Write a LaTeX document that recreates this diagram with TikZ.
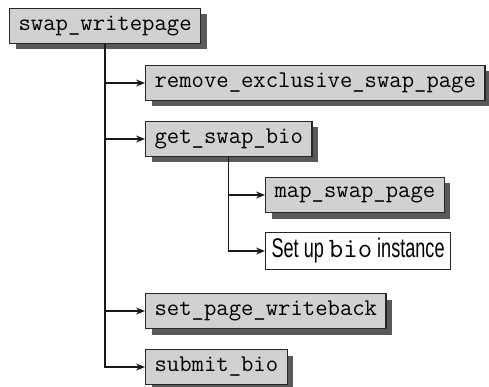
\documentclass[tikz,border=0pt]{standalone}
\usepackage{fontspec}
\newfontfamily\narrowsans[FakeStretch=0.67]{Liberation Sans}
\usetikzlibrary{positioning,shadows,arrows.meta}

\begin{document}
\begin{tikzpicture}[x=1pt,y=-1pt,
    fn/.style={draw=black!85,line width=1.2pt,fill=black!18,anchor=west,
        font=\fontsize{24}{27}\selectfont\ttfamily,inner xsep=9pt,minimum height=35pt,
        drop shadow={shadow xshift=6pt,shadow yshift=-6pt,fill=black!65,opacity=1}},
    plainbox/.style={draw=black!85,line width=1.2pt,fill=white,anchor=west,
        font=\fontsize{27}{30}\selectfont\narrowsans,inner xsep=6pt,minimum height=37pt},
    link/.style={line width=1.4pt,draw=black!90,-{Stealth[length=9pt,width=7pt]}}]
    \useasboundingbox (0,0) rectangle (489,387);
    \node[fn] (writepage) at (9,26) {swap\_writepage};
    \node[fn] (removex) at (145,83) {remove\_exclusive\_swap\_page};
    \node[fn] (getbio) at (145,139) {get\_swap\_bio};
    \node[fn] (mapswap) at (265,195) {map\_swap\_page};
    \node[plainbox] (setupbio) at (265,251) {Set up {\fontsize{28}{30}\selectfont\ttfamily bio} instance};
    \node[fn] (setwb) at (145,311) {set\_page\_writeback};
    \node[fn] (submitbio) at (145,367) {submit\_bio};
    \draw[link] (writepage.south) |- (removex.west);
    \draw[link] (writepage.south) |- (getbio.west);
    \draw[link] (writepage.south) |- (setwb.west);
    \draw[link] (writepage.south) |- (submitbio.west);
    \draw[link] (getbio.south) |- (mapswap.west);
    \draw[link] (getbio.south) |- (setupbio.west);
\end{tikzpicture}
\end{document}
